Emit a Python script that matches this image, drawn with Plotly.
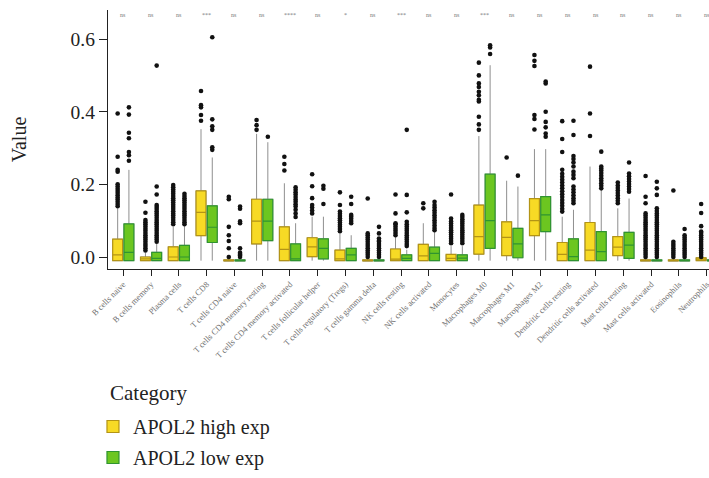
import plotly.graph_objects as go

# Immune cell fractions per group (CIBERSORT-style), box statistics per cell type
cells = [
    "B cells naive", "B cells memory", "Plasma cells", "T cells CD8",
    "T cells CD4 naive", "T cells CD4 memory resting", "T cells CD4 memory activated",
    "T cells follicular helper", "T cells regulatory (Tregs)", "T cells gamma delta",
    "NK cells resting", "NK cells activated", "Monocytes", "Macrophages M0",
    "Macrophages M1", "Macrophages M2", "Dendritic cells resting",
    "Dendritic cells activated", "Mast cells resting", "Mast cells activated",
    "Eosinophils", "Neutrophils",
]
sig = ["ns", "ns", "ns", "***", "ns", "ns", "****", "ns", "*", "ns", "***",
       "ns", "ns", "***", "ns", "ns", "ns", "ns", "ns", "ns", "ns", "ns"]

# APOL2 high expression group
hi_q1 = [-0.010, -0.010, -0.010, 0.059, -0.011, 0.036, -0.010, 0.001, -0.010, -0.011, -0.010,
         -0.010, -0.010, 0.008, 0.004, 0.059, -0.010, -0.010, 0.004, -0.011, -0.011, -0.010]
hi_med = [0.006, -0.005, 0.000, 0.123, -0.010, 0.099, 0.021, 0.028, -0.005, -0.010, -0.006,
          0.003, -0.004, 0.056, 0.054, 0.100, 0.007, 0.019, 0.027, -0.010, -0.010, -0.006]
hi_q3 = [0.049, 0.000, 0.028, 0.182, -0.008, 0.159, 0.083, 0.053, 0.019, -0.008, 0.022,
         0.035, 0.007, 0.143, 0.097, 0.161, 0.040, 0.095, 0.056, -0.008, -0.008, -0.002]
hi_lf = [-0.010, -0.010, -0.010, -0.010, -0.011, -0.010, -0.010, -0.010, -0.010, -0.011, -0.010,
         -0.010, -0.010, -0.010, -0.010, -0.010, -0.010, -0.010, -0.010, -0.011, -0.011, -0.010]
hi_uf = [0.134, 0.012, 0.083, 0.352, -0.006, 0.339, 0.203, 0.111, 0.065, -0.006, 0.055,
         0.093, 0.030, 0.333, 0.210, 0.297, 0.111, 0.249, 0.134, -0.006, -0.006, 0.010]
hi_out = [
    [0.140, 0.146, 0.152, 0.158, 0.164, 0.170, 0.176, 0.182, 0.188, 0.194, 0.200, 0.235, 0.240, 0.276, 0.395],
    [0.018, 0.024, 0.030, 0.036, 0.042, 0.048, 0.054, 0.060, 0.066, 0.072, 0.078, 0.084, 0.090, 0.096, 0.102, 0.122, 0.152],
    [0.090, 0.096, 0.102, 0.108, 0.114, 0.120, 0.126, 0.132, 0.138, 0.144, 0.150, 0.156, 0.162, 0.168, 0.174, 0.180, 0.186, 0.192, 0.198],
    [0.375, 0.391, 0.412, 0.418, 0.457],
    [0.000, 0.024, 0.044, 0.060, 0.083, 0.159, 0.166],
    [0.350, 0.363, 0.377],
    [0.238, 0.256, 0.276],
    [0.120, 0.128, 0.136, 0.143, 0.162, 0.195, 0.228],
    [0.071, 0.077, 0.083, 0.089, 0.095, 0.101, 0.107, 0.113, 0.119, 0.125, 0.143, 0.178],
    [0.000, 0.006, 0.012, 0.018, 0.024, 0.030, 0.036, 0.042, 0.048, 0.054, 0.060, 0.065, 0.161],
    [0.060, 0.066, 0.072, 0.078, 0.084, 0.090, 0.093, 0.120, 0.172],
    [0.134, 0.148],
    [0.038, 0.044, 0.050, 0.056, 0.062, 0.068, 0.074, 0.080, 0.086, 0.092, 0.098, 0.106, 0.172],
    [0.350, 0.365, 0.386, 0.428, 0.433, 0.445, 0.455, 0.468, 0.478, 0.500, 0.535],
    [0.274],
    [0.351, 0.380, 0.391, 0.526, 0.540, 0.556],
    [0.125, 0.133, 0.141, 0.149, 0.157, 0.165, 0.173, 0.181, 0.189, 0.197, 0.205, 0.213, 0.221, 0.229, 0.240, 0.289, 0.325, 0.374],
    [0.333, 0.395, 0.524],
    [0.148, 0.155, 0.162, 0.169, 0.176, 0.183, 0.190, 0.197, 0.205],
    [0.000, 0.006, 0.012, 0.018, 0.024, 0.030, 0.036, 0.042, 0.048, 0.054, 0.060, 0.066, 0.072, 0.078, 0.084, 0.090, 0.096, 0.102, 0.108, 0.114, 0.120, 0.148, 0.166, 0.223],
    [0.000, 0.006, 0.012, 0.018, 0.024, 0.030, 0.036, 0.042, 0.183],
    [0.000, 0.006, 0.012, 0.018, 0.024, 0.030, 0.036, 0.042, 0.048, 0.054, 0.060, 0.066, 0.070, 0.085, 0.121, 0.146],
]

# APOL2 low expression group
lo_q1 = [-0.010, -0.010, -0.010, 0.040, -0.011, 0.045, -0.010, -0.005, -0.010, -0.011, -0.010,
         -0.010, -0.010, 0.024, -0.002, 0.070, -0.010, -0.010, -0.004, -0.011, -0.011, -0.011]
lo_med = [0.013, -0.004, 0.000, 0.082, -0.010, 0.099, -0.005, 0.024, 0.006, -0.010, -0.004,
          0.010, -0.003, 0.100, 0.036, 0.116, 0.001, 0.015, 0.033, -0.010, -0.010, -0.010]
lo_q3 = [0.091, 0.013, 0.032, 0.141, -0.008, 0.159, 0.036, 0.050, 0.024, -0.008, 0.006,
         0.027, 0.006, 0.228, 0.079, 0.166, 0.050, 0.070, 0.068, -0.008, -0.008, -0.008]
lo_lf = [-0.010, -0.010, -0.010, -0.010, -0.011, -0.010, -0.010, -0.010, -0.010, -0.011, -0.010,
         -0.010, -0.010, -0.010, -0.010, -0.010, -0.010, -0.010, -0.010, -0.011, -0.011, -0.011]
lo_uf = [0.240, 0.036, 0.085, 0.274, -0.006, 0.316, 0.093, 0.111, 0.060, -0.006, 0.020,
         0.070, 0.030, 0.528, 0.194, 0.297, 0.130, 0.184, 0.161, -0.006, -0.006, -0.006]
lo_out = [
    [0.265, 0.280, 0.289, 0.327, 0.342, 0.392, 0.412],
    [0.042, 0.048, 0.054, 0.060, 0.066, 0.072, 0.078, 0.084, 0.090, 0.096, 0.102, 0.108, 0.114, 0.120, 0.126, 0.132, 0.138, 0.143, 0.172, 0.194, 0.527],
    [0.090, 0.096, 0.102, 0.108, 0.114, 0.120, 0.126, 0.132, 0.138, 0.144, 0.150, 0.156, 0.162, 0.168, 0.174],
    [0.295, 0.302, 0.350, 0.360, 0.379, 0.605],
    [0.000, 0.004, 0.008, 0.012, 0.024, 0.093, 0.098, 0.133, 0.139],
    [0.331],
    [0.110, 0.120, 0.130, 0.139, 0.145, 0.152, 0.158, 0.165, 0.172, 0.178, 0.185, 0.192],
    [0.146, 0.188, 0.196],
    [0.093, 0.099, 0.105, 0.111, 0.116, 0.146, 0.166],
    [0.000, 0.006, 0.012, 0.018, 0.024, 0.030, 0.036, 0.042, 0.045, 0.051, 0.065, 0.083],
    [0.030, 0.036, 0.042, 0.048, 0.054, 0.060, 0.066, 0.072, 0.078, 0.084, 0.090, 0.097, 0.123, 0.171, 0.350],
    [0.074, 0.080, 0.087, 0.094, 0.101, 0.108, 0.115, 0.122, 0.129, 0.136, 0.143, 0.152],
    [0.038, 0.044, 0.050, 0.056, 0.062, 0.068, 0.074, 0.080, 0.086, 0.092, 0.098, 0.104, 0.110, 0.116],
    [0.559, 0.577, 0.583],
    [0.224],
    [0.331, 0.340, 0.357, 0.372, 0.400, 0.478, 0.483],
    [0.148, 0.155, 0.162, 0.170, 0.178, 0.186, 0.194, 0.217, 0.226, 0.235, 0.249, 0.260, 0.270, 0.278, 0.336, 0.375],
    [0.189, 0.196, 0.203, 0.210, 0.217, 0.224, 0.231, 0.238, 0.244, 0.249, 0.290],
    [0.180, 0.187, 0.194, 0.201, 0.208, 0.215, 0.222, 0.230, 0.260],
    [0.000, 0.006, 0.012, 0.018, 0.024, 0.030, 0.036, 0.042, 0.048, 0.054, 0.060, 0.066, 0.072, 0.078, 0.084, 0.090, 0.096, 0.102, 0.108, 0.114, 0.120, 0.127, 0.134, 0.171, 0.189, 0.207],
    [0.000, 0.006, 0.012, 0.018, 0.024, 0.030, 0.036, 0.042, 0.048, 0.054, 0.060, 0.077],
    [0.000, 0.006, 0.012, 0.018, 0.024, 0.030, 0.036, 0.042, 0.048],
]

FONT = "Liberation Serif"
WHISKER = "#8f8f8f"
groups = [
    ("APOL2 high exp", "high", hi_q1, hi_med, hi_q3, hi_lf, hi_uf, hi_out, "#F7DA25", "#B39416"),
    ("APOL2 low exp", "low", lo_q1, lo_med, lo_q3, lo_lf, lo_uf, lo_out, "#6CC620", "#2F9430"),
]

BOXGAP = 0.19
fig = go.Figure()
for name, grp, q1, med, q3, lf, uf, out, fill, edge in groups:
    # grey whiskers (full box statistics, transparent body)
    fig.add_trace(go.Box(
        x=cells, q1=q1, median=med, q3=q3, lowerfence=lf, upperfence=uf,
        offsetgroup=grp, legendgroup=grp, showlegend=False, boxpoints=False,
        line=dict(color=WHISKER, width=1), fillcolor="rgba(0,0,0,0)",
        whiskerwidth=0, hoverinfo="skip",
    ))
    # coloured box body drawn over the whiskers
    fig.add_trace(go.Box(
        x=cells, q1=q1, median=med, q3=q3, lowerfence=q1, upperfence=q3,
        name=name, offsetgroup=grp, legendgroup=grp, boxpoints=False,
        line=dict(color=edge, width=1.2), fillcolor=fill, whiskerwidth=0,
    ))
    # outlying samples
    xs, ys = [], []
    for c, vals in zip(cells, out):
        xs += [c] * len(vals)
        ys += vals
    fig.add_trace(go.Scatter(
        x=xs, y=ys, mode="markers", offsetgroup=grp, legendgroup=grp,
        showlegend=False, marker=dict(color="#111111", size=4.6, line=dict(width=0)),
        hoverinfo="skip",
    ))

for c, s in zip(cells, sig):
    fig.add_annotation(x=c, y=0.666, text=s, showarrow=False,
                       font=dict(family=FONT, size=6, color="#777777"))

# legend heading
fig.add_annotation(text="Category", xref="paper", yref="paper", x=0, y=-0.479,
                   xanchor="left", yanchor="middle", showarrow=False,
                   font=dict(family=FONT, size=21, color="#222222"))

fig.update_layout(
    width=709, height=478,
    margin=dict(l=108, r=0, t=10, b=209, autoexpand=False),
    paper_bgcolor="white", plot_bgcolor="white",
    boxmode="group", boxgap=BOXGAP, boxgroupgap=0.12,
    scattermode="group", scattergap=BOXGAP,
    font=dict(family=FONT, color="#222222"),
    showlegend=True,
    legend=dict(
        font=dict(size=20, family=FONT, color="#222222"),
        x=-0.025, xanchor="left", xref="paper",
        y=1 - 407 / 478, yanchor="top", yref="container",
        traceorder="grouped", tracegroupgap=2,
        bgcolor="rgba(0,0,0,0)",
    ),
    xaxis=dict(
        type="category", range=[-0.55, 21.08],
        showline=True, linecolor="#222222", linewidth=1.3, mirror=False,
        ticks="outside", ticklen=6, tickcolor="#222222",
        tickangle=-45, tickfont=dict(family=FONT, size=8.5, color="#707070"),
        showgrid=False, zeroline=False, automargin=False,
    ),
    yaxis=dict(
        range=[-0.033, 0.680],
        tickvals=[0, 0.2, 0.4, 0.6], tickformat=".1f",
        showline=True, linecolor="#222222", linewidth=1.3,
        ticks="outside", ticklen=8, tickcolor="#222222",
        tickfont=dict(family=FONT, size=19.5, color="#222222"),
        title=dict(text="Value", font=dict(family=FONT, size=20, color="#222222"), standoff=38),
        showgrid=False, zeroline=False, automargin=False,
    ),
)

fig.write_html("out.html")
